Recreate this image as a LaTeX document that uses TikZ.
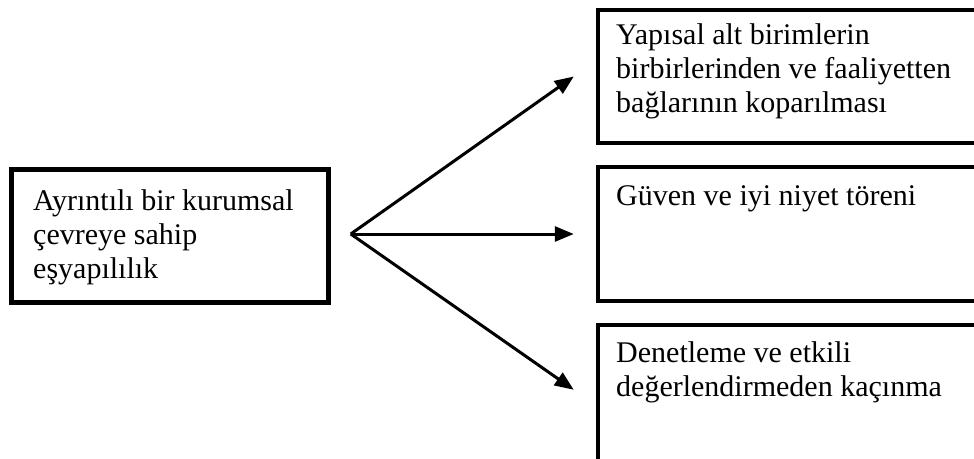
\documentclass[tikz,border=0pt]{standalone}
\usepackage{fontspec}
\setmainfont{Liberation Serif}
\usetikzlibrary{arrows.meta}
\begin{document}
\begin{tikzpicture}[x=1pt,y=-1pt,
  frame/.style={draw=black,line width=4.5pt,inner sep=0pt,fill=none},
  label/.style={anchor=north west,inner sep=0pt,align=left,
    font=\fontsize{30}{34}\selectfont},
  link/.style={line width=3pt,-{Triangle[length=19pt,width=15pt]}}]
\clip (0,0) rectangle (974,458);
\fill[white] (0,0) rectangle (974,458);

% source box
\node[frame,minimum width=317pt,minimum height=133pt] (src) at (170,236) {};
\node[label] (srct) at (33,189) {Ayrıntılı bir kurumsal\\çevreye sahip\\eşyapılılık};

% target boxes (run past the right and bottom edges)
\node[frame,minimum width=412pt,minimum height=133pt] (t1) at (804,76.5) {};
\node[frame,minimum width=412pt,minimum height=134pt] (t2) at (804,234) {};
\node[frame,minimum width=412pt,minimum height=160pt] (t3) at (804,405) {};

\node[label] (t1t) at (616,23) {Yapısal alt birimlerin\\birbirlerinden ve faaliyetten\\bağlarının koparılması};
\node[label] (t2t) at (616,185) {Güven ve iyi niyet töreni};
\node[label] (t3t) at (616,341) {Denetleme ve etkili\\değerlendirmeden kaçınma};

% fan of arrows
\coordinate (hub) at ([xshift=20pt]src.east |- t2.west);
\coordinate (e1) at ([xshift=-22pt]t1.west);
\coordinate (e2) at ([xshift=-22pt]t2.west);
\coordinate (e3) at ([xshift=-22pt,yshift=-67pt]t3.north west);
\draw[link] (hub) -- (e1);
\draw[link] (hub) -- (e2);
\draw[link] (hub) -- (e3);
\end{tikzpicture}
\end{document}
